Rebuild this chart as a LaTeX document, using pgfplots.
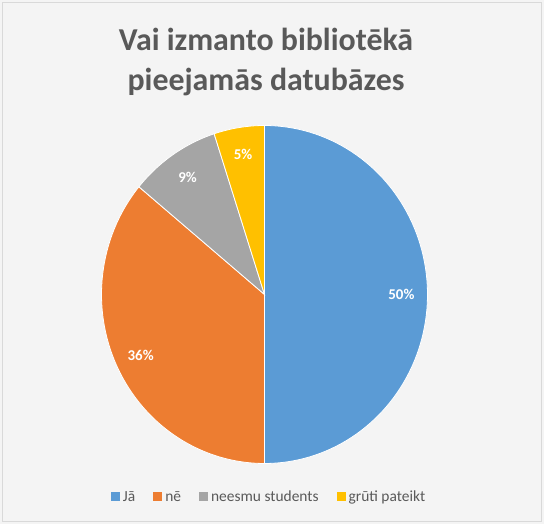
\documentclass[border=0pt]{standalone}
\usepackage{pgfplots}
\pgfplotsset{compat=1.18}
\usepackage{pgfplotstable}
\usepackage{fontspec}
\setmainfont{Carlito}
\definecolor{bgfill}{HTML}{F4F4F4}
\definecolor{framegray}{HTML}{D9D9D9}
\definecolor{titlegray}{HTML}{595959}
\definecolor{slice0}{HTML}{5B9BD5}
\definecolor{slice1}{HTML}{ED7D31}
\definecolor{slice2}{HTML}{A5A5A5}
\definecolor{slice3}{HTML}{FFC000}

\pgfplotstableread[col sep=comma]{
label,value
Jā,50
nē,36
neesmu students,9
grūti pateikt,5
}\piedata

\begin{document}
\begin{tikzpicture}[x=1bp,y=1bp]
\useasboundingbox (0,0) rectangle (544,524);
\fill[bgfill] (0,0) rectangle (544,524);
\draw[framegray, line width=1bp] (2.5,2.5) rectangle (541.5,521.5);
\node[font=\bfseries\fontsize{32}{40}\selectfont, text=titlegray, align=center] at (266,462)
  {Vai izmanto bibliotēkā\\pieejamās datubāzes};
\begin{axis}[
  at={(264.5bp,229.5bp)}, anchor=center,
  hide axis, clip=false,
  x=163bp, y=169bp,
  xmin=-1, xmax=1, ymin=-1, ymax=1,
  enlargelimits=false,
  legend columns=4,
  legend style={draw=none, fill=none, at={(0.514,-0.099)}, anchor=center,
    font=\fontsize{15.5}{17}\selectfont, text=titlegray,
    /tikz/every odd column/.append style={column sep=1bp},
    /tikz/every even column/.append style={column sep=16bp}},
  legend image code/.code={\fill[#1,draw=none] (0bp,-4.5bp) rectangle (9bp,4.5bp);},
]
\pgfmathsetmacro\startang{90}
\pgfplotsforeachungrouped \i in {0,...,3}{%
  \pgfplotstablegetelem{\i}{value}\of\piedata
  \let\val\pgfplotsretval
  \pgfplotstablegetelem{\i}{label}\of\piedata
  \let\lab\pgfplotsretval
  \pgfmathsetmacro\endang{\startang-3.6*\val}
  \pgfmathsetmacro\midang{(\startang+\endang)/2}
  \edef\cmd{%
    \noexpand\addplot[fill=slice\i, draw=white, line width=0.8bp, domain=\startang:\endang, samples=90]
      ({cos(x)},{sin(x)}) -- (axis cs:0,0) -- cycle;
    \noexpand\addlegendentry{\lab}
    \noexpand\node[text=white, font=\noexpand\bfseries\noexpand\fontsize{15}{17}\noexpand\selectfont]
      at (axis cs:{0.84*cos(\midang)},{0.84*sin(\midang)}) {\val\noexpand\%};
  }\cmd
  \let\startang\endang
}
\end{axis}
\end{tikzpicture}
\end{document}
